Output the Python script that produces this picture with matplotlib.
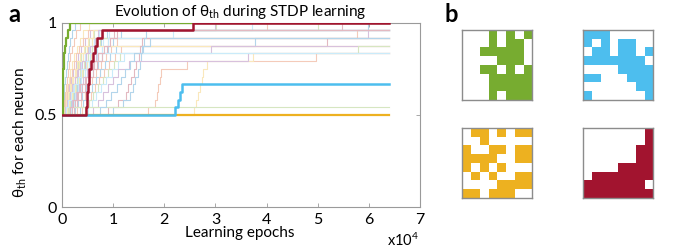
import matplotlib
matplotlib.use("Agg")
import matplotlib.pyplot as plt
import numpy as np
from matplotlib.colors import ListedColormap, to_rgb

plt.rcParams['font.family'] = ['Lato', 'DejaVu Sans']
plt.rcParams['mathtext.fontset'] = 'custom'
plt.rcParams['mathtext.rm'] = 'Lato'
plt.rcParams['mathtext.it'] = 'Lato:italic'

# ---------------- data ----------------
x_end = 64000
xticks = [0, 10000, 20000, 30000, 40000, 50000, 60000, 70000]
xtick_labels = ["0", "1", "2", "3", "4", "5", "6", "7"]
yticks = [0, 0.5, 1]
ytick_labels = ["0", "0.5", "1"]

green_epochs = [0, 150, 250, 400, 550, 800, 1100, 1600]
green_theta = [0.5, 0.625, 0.75, 0.833, 0.875, 0.917, 0.958, 1.0]
red_epochs = [0, 4700, 4850, 5000, 5200, 5350, 5600, 6100, 6450, 6800, 7750, 25700]
red_theta = [0.5, 0.542, 0.625, 0.667, 0.708, 0.75, 0.792, 0.833, 0.875, 0.917, 0.958, 1.0]
blue_epochs = [0, 22100, 22700, 23100, 23400]
blue_theta = [0.5, 0.542, 0.583, 0.625, 0.667]
yellow_epochs = [0]
yellow_theta = [0.5]

faint_epochs = [
    [0, 100, 200, 300, 450, 600, 750, 900, 1100, 1300, 1600, 2000, 2500],
    [0, 200, 350, 500, 700, 900, 1100, 1300, 1600, 1900, 2300, 2800, 3500],
    [0, 300, 500, 800, 1000, 1300, 1600, 2000, 2400, 2900, 3500, 4200, 5200],
    [0, 400, 700, 1000, 1400, 1800, 2200, 2700, 3200, 3800, 4500, 5400, 30000],
    [0, 600, 900, 1300, 1700, 2200, 2700, 3200, 3800, 4500, 5300, 6300, 30200],
    [0, 800, 1200, 1600, 2100, 2600, 3200, 3800, 4500, 5300, 6200, 7300, 37100],
    [0, 1000, 1500, 2000, 2500, 3100, 3700, 4400, 5100, 5900, 6800, 8000, 54700],
    [0, 1200, 1700, 2300, 2900, 3500, 4200, 4900, 5700, 6600, 7600, 8800, 59900],
    [0, 300, 600, 900, 1200, 1500, 1900, 2300, 2800, 3400, 4100, 5000, 40000],
    [0, 500, 800, 1200, 1600, 2000, 2500, 3000, 3600, 4300, 5100, 6000],
    [0, 700, 1100, 1500, 2000, 2500, 3000, 3600, 4200, 5000, 5900, 7000],
    [0, 900, 1400, 1900, 2400, 3000, 3600, 4300, 5000, 5800, 6700, 7800, 50000],
    [0, 1500, 2000, 2600, 3200, 3800, 4500, 5200, 6000, 6900, 8000, 9200],
    [0, 2000, 2600, 3200, 3900, 4600, 5400, 6200, 7000, 7900, 8900, 10200],
    [0, 2600, 3200, 3900, 4600, 5300, 6100, 7000, 7900, 8900, 10000, 11500],
    [0, 3000, 3700, 4400, 5100, 5900, 6700, 7600, 8600, 9600, 10800, 57600],
    [0, 400, 800, 1200, 1700, 2200, 2800, 3400, 4100, 4900, 5800],
    [0, 600, 1000, 1500, 2000, 2600, 3200, 3900, 4600, 5400, 6400, 59800],
    [0, 1100, 1600, 2200, 2800, 3400, 4100, 4800, 5600, 6500, 7500],
    [0, 1800, 2400, 3000, 3700, 4400, 5200, 6000, 6900, 7900, 9000, 21800],
    [0, 2300, 3000, 3700, 4400, 5200, 6000, 6900, 7800, 8800, 51800],
    [0, 3500, 4200, 5000, 5800, 6600, 7500, 8400, 9400, 10500, 37700],
    [0, 4000, 4800, 5600, 6400, 7300, 8200, 9200, 10300, 11500],
    [0, 900, 1400, 2000, 2600, 3300, 4000, 4800, 5600, 6500],
    [0, 1400, 2000, 2700, 3400, 4100, 4900, 5800, 6700, 29100],
    [0, 4500, 5300, 6100, 7000, 8000, 9000, 10100, 11300, 57900],
    [0, 5000, 5800, 6700, 7700, 8700, 9800, 11000, 12200],
    [0, 9000, 11000, 12500, 13000, 13500, 14000, 14500, 15000, 15300, 15600],
    [0, 10000, 12000, 13200, 13800, 14300, 14800, 15200, 15500, 15800, 16100, 16400],
    [0, 16900, 18200, 18500, 18800, 19100, 19400, 24400, 49600],
    [0, 25800, 26200, 26500, 26900, 27300, 27600, 28300, 37400],
    [0, 6000, 7000, 8000, 9000, 10000, 11000, 13100, 36400],
    [0, 1300],
    [0, 700, 1200, 1800, 2400, 3100, 3800, 4600, 5500],
    [0, 1600, 2200, 2900, 3600, 4400, 5200, 6100, 7100, 8200, 9400, 10700],
    [0, 7500, 8700, 9600, 10800, 11600, 12400, 13300, 14100, 15600, 17200],
]
theta_levels = [0.5, 0.542, 0.583, 0.625, 0.667, 0.708, 0.75, 0.792,
                0.833, 0.875, 0.917, 0.958, 1.0]

faint_colors = ['#0072BD', '#D95319', '#EDB120', '#7E2F8E', '#77AC30',
                '#4DBEEE', '#A2142F']

grid_green = [
    [0, 0, 0, 1, 0, 1, 0, 1],
    [0, 0, 0, 1, 0, 1, 1, 0],
    [0, 0, 1, 1, 1, 1, 1, 0],
    [0, 0, 0, 0, 1, 1, 1, 0],
    [0, 0, 1, 1, 0, 1, 0, 1],
    [0, 0, 0, 1, 1, 1, 1, 1],
    [0, 0, 0, 1, 1, 1, 1, 1],
    [0, 0, 0, 1, 0, 1, 1, 1],
]
grid_blue = [
    [1, 1, 1, 0, 0, 0, 0, 0],
    [1, 0, 1, 0, 1, 1, 0, 0],
    [0, 1, 1, 0, 1, 1, 0, 1],
    [1, 1, 1, 1, 1, 1, 1, 0],
    [0, 0, 0, 0, 1, 1, 1, 1],
    [1, 1, 0, 0, 0, 1, 1, 1],
    [0, 0, 0, 0, 0, 0, 1, 1],
    [1, 0, 0, 0, 0, 0, 0, 1],
]
grid_yellow = [
    [0, 1, 1, 0, 1, 0, 1, 1],
    [0, 0, 1, 0, 0, 0, 0, 0],
    [1, 0, 0, 1, 1, 0, 1, 1],
    [1, 1, 1, 1, 0, 0, 1, 1],
    [1, 0, 1, 0, 1, 0, 0, 0],
    [0, 1, 0, 1, 0, 0, 1, 1],
    [0, 0, 0, 0, 1, 1, 1, 1],
    [1, 1, 0, 1, 1, 1, 0, 0],
]
grid_red = [
    [0, 0, 0, 0, 0, 0, 0, 1],
    [0, 0, 0, 0, 0, 0, 0, 1],
    [0, 0, 0, 0, 0, 0, 1, 1],
    [0, 0, 0, 0, 0, 0, 1, 1],
    [0, 0, 0, 0, 1, 1, 1, 1],
    [0, 1, 1, 1, 1, 1, 1, 1],
    [1, 1, 1, 1, 1, 1, 1, 0],
    [1, 1, 1, 1, 1, 1, 1, 1],
]

# ---------------- figure ----------------
W, H = 673, 249
fig = plt.figure(figsize=(W / 100, H / 100), dpi=100)

ax = fig.add_axes([62 / W, 1 - 207 / H, (420 - 62) / W, (207 - 22.7) / H])


def stair(ep, th):
    xs = list(ep) + [x_end]
    ys = list(th) + [th[-1]]
    return xs, ys


def pastel(c, a=0.3):
    r = np.array(to_rgb(c))
    return tuple(a * r + (1 - a) * np.ones(3))


for i, ep in enumerate(faint_epochs):
    th = theta_levels[:len(ep)]
    xs, ys = stair(ep, th)
    ax.step(xs, ys, where='post',
            color=pastel(faint_colors[i % len(faint_colors)]),
            lw=0.8, zorder=2)

for ep, th, c, lw in [(yellow_epochs, yellow_theta, '#EDB120', 1.6),
                      (blue_epochs, blue_theta, '#4DBEEE', 1.8),
                      (green_epochs, green_theta, '#77AC30', 1.6),
                      (red_epochs, red_theta, '#A2142F', 1.8)]:
    xs, ys = stair(ep, th)
    ax.step(xs, ys, where='post', color=c, lw=lw, zorder=4)

ax.set_xlim(0, 70000)
ax.set_ylim(0, 1)
ax.set_xticks(xticks)
ax.set_xticklabels(xtick_labels, fontsize=11.5)
ax.set_yticks(yticks)
ax.set_yticklabels(ytick_labels, fontsize=11.5)
ax.tick_params(direction='in', length=3, width=0.6, color='#9a9a9a',
               top=True, right=True, pad=4)
for s in ax.spines.values():
    s.set_color('#9a9a9a')
    s.set_linewidth(0.8)

fig.text(240 / W, 1 - 12 / H, r"Evolution of θ$_{\mathrm{th}}$ during STDP learning",
         ha='center', va='center', fontsize=11)
fig.text(20 / W, 1 - 132 / H, r"θ$_{\mathrm{th}}$ for each neuron",
         ha='center', va='center', rotation=90, fontsize=11)
fig.text(240 / W, 1 - 233 / H, "Learning epochs", ha='center', va='center',
         fontsize=11)
fig.text(403 / W, 1 - 240 / H, r"x10$^{4}$", ha='center', va='center',
         fontsize=10.5)
fig.text(14 / W, 1 - 15 / H, "a", ha='center', va='center', fontsize=17,
         fontweight='bold')
fig.text(451 / W, 1 - 15 / H, "b", ha='center', va='center', fontsize=17,
         fontweight='bold')

gw, gh = 70.5 / W, 70 / H
for g, c, (lx, ty) in [(grid_green, '#77AC30', (461.7, 30)),
                       (grid_blue, '#4DBEEE', (582.7, 30)),
                       (grid_yellow, '#EDB120', (461.7, 128.3)),
                       (grid_red, '#A2142F', (582.7, 128.3))]:
    gax = fig.add_axes([lx / W, 1 - ty / H - gh, gw, gh])
    gax.imshow(np.array(g), cmap=ListedColormap(['white', c]), vmin=0, vmax=1,
               aspect='auto', interpolation='nearest')
    gax.set_xticks([])
    gax.set_yticks([])
    for s in gax.spines.values():
        s.set_color('#8c8c8c')
        s.set_linewidth(1.0)

fig.savefig("out.png", dpi=100)
